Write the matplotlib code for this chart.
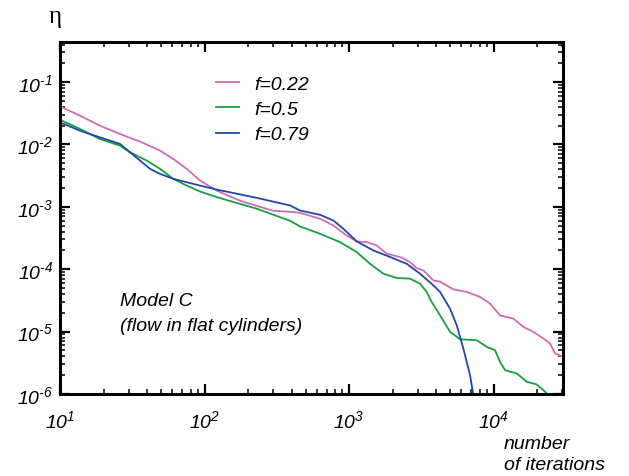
import matplotlib
matplotlib.use("Agg")
import matplotlib.pyplot as plt
from matplotlib.ticker import FuncFormatter, LogLocator, NullFormatter
import numpy as np

plt.rcParams['font.family'] = ['Liberation Sans', 'DejaVu Sans']
plt.rcParams['font.style'] = 'italic'
plt.rcParams['mathtext.fontset'] = 'custom'
plt.rcParams['mathtext.rm'] = 'Liberation Sans:italic'
plt.rcParams['mathtext.it'] = 'Liberation Sans:italic'

# curves (iterations, eta)
x_022 = [10, 13.75, 18.9, 26.0, 35.8, 49.2, 60.8, 75.3, 93.1, 121.5,
         176, 298, 391, 458, 630, 779, 964, 1131, 1326, 1555,
         1824, 2254, 2643, 2941, 3268, 3832, 4264, 5270, 6524, 8066,
         9459, 11090, 13710, 16080, 18860, 22110, 24600, 26650, 30250]
y_022 = [4.08e-2, 2.89e-2, 2.00e-2, 1.47e-2, 1.11e-2, 7.96e-3, 5.86e-3, 4.06e-3, 2.64e-3, 1.82e-3,
         1.25e-3, 8.63e-4, 8.32e-4, 8.02e-4, 6.43e-4, 5.02e-4, 3.47e-4, 2.79e-4, 2.72e-4, 2.40e-4,
         1.77e-4, 1.57e-4, 1.30e-4, 1.04e-4, 9.57e-5, 6.62e-5, 6.3e-5, 4.75e-5, 4.32e-5, 3.59e-5,
         2.81e-5, 1.82e-5, 1.61e-5, 1.19e-5, 9.9e-6, 7.73e-6, 6.43e-6, 4.45e-6, 3.94e-6]

x_05 = [10, 13.75, 18.9, 26.0, 30.5, 39.8, 49.2, 60.8, 75.3, 93.1,
        121.5, 231, 391, 458, 630, 866, 1131, 1397, 1728, 2138,
        2643, 3099, 3450, 3636, 4264, 5000, 5866, 7652, 8974, 10240,
        11090, 12010, 14480, 16980, 19910, 22110, 23350, 24000]
y_05 = [2.49e-2, 1.77e-2, 1.22e-2, 9.57e-3, 7.50e-3, 5.51e-3, 4.06e-3, 2.81e-3, 2.19e-3, 1.76e-3,
        1.43e-3, 9.29e-4, 5.97e-4, 4.84e-4, 3.70e-4, 2.72e-4, 1.88e-4, 1.22e-4, 8.47e-5, 7.23e-5,
        7.05e-5, 5.86e-5, 4.32e-5, 3.3e-5, 1.82e-5, 9.9e-6, 7.53e-6, 7.26e-6, 5.69e-6, 5.02e-6,
        3.27e-6, 2.40e-6, 2.13e-6, 1.57e-6, 1.42e-6, 1.15e-6, 1.02e-6, 9.0e-7]

x_079 = [10, 13.75, 18.9, 26.0, 30.5, 35.8, 42.0, 49.2, 60.8, 75.3,
         93.1, 121.5, 231, 391, 458, 630, 779, 913, 1131, 1473,
         1922, 2508, 3099, 3832, 4264, 5000, 5565, 6180, 6877, 7247]
y_079 = [2.26e-2, 1.66e-2, 1.30e-2, 1.02e-2, 7.50e-3, 5.51e-3, 4.06e-3, 3.37e-3, 2.81e-3, 2.48e-3,
         2.19e-3, 1.89e-3, 1.39e-3, 1.05e-3, 8.73e-4, 7.45e-4, 6.04e-4, 4.45e-4, 2.79e-4, 2.00e-4,
         1.57e-4, 1.22e-4, 8.47e-5, 5.51e-5, 4.32e-5, 2.33e-5, 1.26e-5, 5.35e-6, 2.00e-6, 9.6e-7]

labels = ['f=0.22', 'f=0.5', 'f=0.79']
colors = ['#d06cb4', '#18a040', '#2048a8']

fig = plt.figure(figsize=(6.29, 4.77), dpi=100)
ax = fig.add_axes([0.0954, 0.172, 0.7997, 0.738])

ax.plot(x_022, y_022, color=colors[0], lw=1.3, label=labels[0])
ax.plot(x_05, y_05, color=colors[1], lw=1.3, label=labels[1])
ax.plot(x_079, y_079, color=colors[2], lw=1.3, label=labels[2])

ax.set_xscale('log')
ax.set_yscale('log')
ax.set_xlim(10, 30250)
ax.set_ylim(1e-6, 0.44)


def exp_label(v, pos):
    e = int(round(np.log10(v)))
    if e < 0:
        return r'$\mathrm{10^{\text{-}%d}}$' % (-e)
    return r'$\mathrm{10^{%d}}$' % e


fmt = FuncFormatter(exp_label)
ax.xaxis.set_major_formatter(fmt)
ax.yaxis.set_major_formatter(fmt)
ax.xaxis.set_minor_formatter(NullFormatter())
ax.yaxis.set_minor_formatter(NullFormatter())
ax.xaxis.set_minor_locator(LogLocator(base=10, subs=np.arange(2, 10)))
ax.yaxis.set_minor_locator(LogLocator(base=10, subs=np.arange(2, 10)))

for s in ax.spines.values():
    s.set_linewidth(2.2)
ax.tick_params(which='both', direction='in', top=True, right=True, labelsize=14)
ax.tick_params(which='major', length=7, width=1.6)
ax.tick_params(which='minor', length=3.5, width=1.1)
ax.tick_params(axis='x', which='major', pad=11)
ax.tick_params(axis='y', which='major', pad=5)

ax.legend(loc='upper left', bbox_to_anchor=(0.31, 0.906), frameon=False,
          fontsize=14, handlelength=1.2, handletextpad=0.75, labelspacing=0.4,
          borderpad=0, borderaxespad=0)

ax.text(0.119, 0.23, 'Model C\n(flow in flat cylinders)', transform=ax.transAxes,
        fontsize=14, va='center', ha='left', linespacing=1.55)
fig.text(504 / 629, 1 - 455 / 477, 'number\nof iterations', fontsize=14,
         va='center', ha='left', linespacing=1.3)
fig.text(55 / 629, 1 - 17 / 477, 'η', fontsize=18, family='Liberation Serif',
         style='normal', va='center', ha='center')

fig.savefig('out.png', dpi=100)
